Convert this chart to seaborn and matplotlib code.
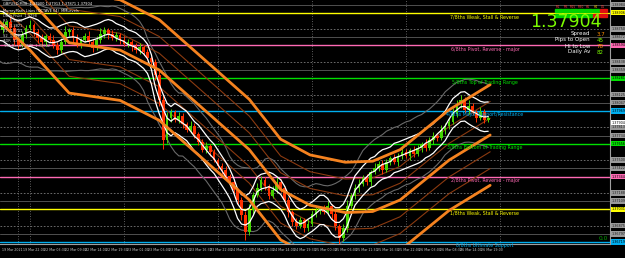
import numpy as np
import pandas as pd
import matplotlib
matplotlib.use("Agg")
import matplotlib.pyplot as plt
import matplotlib.transforms as mtransforms
import seaborn as sns

# ---------------- data (GBPUSD, hourly bars) ----------------
bar_hours = list(range(-8, 118))
first_open = 1.38720
closes = [
    1.38742, 1.38790, 1.38818, 1.38761, 1.38646, 1.38599, 1.38694, 1.38761, 1.38790, 1.38723,
    1.38665, 1.38627, 1.38685, 1.38646, 1.38599, 1.38551, 1.38627, 1.38723, 1.38742, 1.38665,
    1.38608, 1.38646, 1.38685, 1.38627, 1.38570, 1.38646, 1.38704, 1.38742, 1.38704, 1.38665,
    1.38694, 1.38646, 1.38608, 1.38627, 1.38589, 1.38551, 1.38580, 1.38532, 1.38475, 1.38436,
    1.38313, 1.38074, 1.37692, 1.37902, 1.37960, 1.37883, 1.37921, 1.37845, 1.37788, 1.37826,
    1.37750, 1.37673, 1.37597, 1.37635, 1.37578, 1.37501, 1.37444, 1.37406, 1.37349, 1.37292,
    1.37215, 1.37120, 1.36977, 1.36815, 1.37024, 1.37168, 1.37235, 1.37311, 1.37254, 1.37158,
    1.37215, 1.37292, 1.37235, 1.37120, 1.37006, 1.36910, 1.36872, 1.36929, 1.36853, 1.36891,
    1.36987, 1.37024, 1.37044, 1.37006, 1.37063, 1.36987, 1.36872, 1.36757, 1.36853, 1.37063,
    1.37158, 1.37235, 1.37273, 1.37330, 1.37292, 1.37387, 1.37425, 1.37463, 1.37406, 1.37482,
    1.37521, 1.37482, 1.37540, 1.37578, 1.37540, 1.37597, 1.37559, 1.37616, 1.37654, 1.37616,
    1.37692, 1.37731, 1.37711, 1.37788, 1.37826, 1.37864, 1.37940, 1.38036, 1.38074, 1.37978,
    1.38017, 1.37960, 1.37902, 1.37960, 1.37883, 1.37904,
]
wick_up_pips = [
    3, 4, 2, 5, 3, 2, 4, 3, 5, 2,
    3, 4, 2, 3, 5, 3, 4, 6, 2, 3,
    4, 2, 3, 5, 3, 4, 6, 3, 2, 4,
    3, 2, 4, 3, 2, 3, 4, 2, 3, 2,
    3, 4, 5, 6, 3, 2, 4, 3, 2, 5,
    3, 2, 3, 4, 2, 3, 2, 3, 4, 2,
    3, 2, 3, 4, 6, 3, 5, 4, 3, 2,
    4, 5, 3, 2, 3, 2, 4, 3, 2, 5,
    3, 4, 2, 3, 5, 2, 3, 2, 4, 6,
    3, 4, 5, 3, 4, 2, 5, 3, 4, 3,
    2, 4, 3, 5, 3, 2, 4, 3, 2, 5,
    3, 4, 2, 5, 3, 4, 6, 4, 5, 3,
    6, 3, 2, 5, 3, 2,
]
wick_dn_pips = [
    2, 3, 4, 3, 5, 4, 2, 3, 2, 4,
    5, 3, 4, 2, 3, 4, 3, 2, 4, 5,
    3, 4, 2, 3, 4, 2, 3, 4, 5, 2,
    3, 4, 2, 3, 5, 3, 4, 3, 2, 4,
    5, 6, 9, 3, 4, 2, 3, 4, 2, 3,
    4, 3, 2, 3, 4, 2, 3, 4, 3, 2,
    3, 4, 5, 8, 3, 4, 2, 3, 4, 3,
    2, 3, 4, 3, 5, 4, 3, 2, 4, 3,
    2, 3, 4, 2, 3, 5, 4, 6, 3, 4,
    2, 3, 4, 2, 3, 4, 2, 3, 4, 2,
    3, 2, 4, 3, 2, 4, 3, 2, 4, 3,
    2, 4, 3, 2, 4, 3, 2, 3, 4, 3,
    4, 3, 4, 2, 3, 2,
]

# slow orange channel (knots)
band_hours = [-8, 0, 10, 23, 33, 43, 56, 64, 71.5, 80.5, 87.5, 94.5, 107, 117.5]
orange_mid = [1.3931, 1.3903, 1.3862, 1.3855, 1.3836, 1.3803, 1.3760, 1.3722, 1.3707,
              1.3700, 1.3701, 1.3712, 1.3750, 1.3774]
orange_upper = [1.3979, 1.3951, 1.3910, 1.3903, 1.3884, 1.3851, 1.3808, 1.3770, 1.3755,
                1.3748, 1.3749, 1.3760, 1.3798, 1.3822]
orange_lower = [1.3883, 1.3855, 1.3814, 1.3807, 1.3788, 1.3755, 1.3712, 1.3674, 1.3659,
                1.3652, 1.3653, 1.3664, 1.3702, 1.3726]

# Murrey Math levels
mm_levels = [1.36719, 1.37031, 1.37344, 1.37656, 1.37969, 1.38281, 1.38594, 1.38906]
mm_labels = ["0/8ths Ultimate Support", "1/8ths Weak, Stall & Reverse",
             "2/8ths Pivot, Reverse - major", "3/8ths Bottom of Trading Range",
             "4/8ths Major Support/Resistance", "5/8ths Top of Trading Range",
             "6/8ths Pivot, Reverse - major", "7/8ths Weak, Stall & Reverse"]
mm_colors = ["#00aeef", "#ffff00", "#ff69b4", "#00e000", "#00aeef", "#00e000", "#ff69b4", "#ffff00"]
sub_quarter = [1.36797, 1.37109, 1.37422, 1.37734, 1.38047, 1.38359, 1.38672, 1.38984]
sub_half = [1.36875, 1.37188, 1.37500, 1.37813, 1.38125, 1.38438, 1.38750]

current_price = 1.37904
day_separators = [-3, 0, 24, 48, 72, 96, 120]
tick_hours = [-7.15, -1.83, 3.49, 8.81, 14.13, 19.45, 24.77, 30.09, 35.41, 40.73, 46.05, 51.37,
              56.69, 62.01, 67.33, 72.65, 77.97, 83.29, 88.61, 93.93, 99.25, 104.57, 109.89, 115.21]
tick_labels = ["19 Mar 2021", "19 Mar 22:00", "22 Mar 03:30", "22 Mar 09:00", "22 Mar 14:00",
               "22 Mar 19:30", "23 Mar 01:00", "23 Mar 06:00", "23 Mar 11:30", "23 Mar 16:30",
               "23 Mar 22:00", "24 Mar 03:30", "24 Mar 08:30", "24 Mar 14:00", "24 Mar 19:30",
               "25 Mar 00:30", "25 Mar 06:00", "25 Mar 11:30", "25 Mar 16:30", "25 Mar 22:00",
               "26 Mar 03:00", "26 Mar 08:30", "26 Mar 14:00", "26 Mar 19:00"]

tf_names = ["M1", "M5", "M15", "M30", "H1", "H4", "D1"]
tf_colors = ["#ff4040", "#ff4040", "#ff4040", "#ff4040", "#ff4040", "#ffd000", "#ff4040"]
row1_state = [1, 1, 1, 1, 1, 1, 0]
row2_state = [1, 1, 1, 1, 1, 0, 0]
info_names = ["Spread", "Pips to Open", "Hi to Low", "Daily Av"]
info_values = ["3.7", "45", "78", "82"]
info_colors = ["#ff8c00", "#7cfc00", "#ff8c00", "#7cfc00"]

# ---------------- figure ----------------
sns.set_theme(style="dark")
plt.rcParams["font.family"] = ["DejaVu Sans"]
W, H = 625, 258
fig = plt.figure(figsize=(W / 100, H / 100), dpi=100, facecolor="black")
ax = fig.add_axes([0, 14 / H, 610 / W, 244 / H])
ax.set_facecolor("black")
ax.set_xlim(-7.66, 148.1)
ax.set_ylim(1.36700, 1.39028)

df = pd.DataFrame({"h": bar_hours, "close": closes})
df["open"] = [first_open] + closes[:-1]
df["high"] = np.maximum(df["open"], df["close"]) + np.array(wick_up_pips) * 0.0001
df["low"] = np.minimum(df["open"], df["close"]) - np.array(wick_dn_pips) * 0.0001

# grid / separators
for x in day_separators:
    ax.axvline(x, color="#7a7a7a", lw=0.6, ls=(0, (1, 2)), zorder=1)
for y in sub_quarter:
    ax.axhline(y, color="#505050", lw=0.7, zorder=1)
for y in sub_half:
    ax.axhline(y, color="#7a7a7a", lw=0.6, ls=(0, (2, 2)), zorder=1)
for y, c in zip(mm_levels, mm_colors):
    ax.axhline(y, color=c, lw=1.0, zorder=1.5)

# indicator lines
s = df["close"]
wmid = s.rolling(5, center=True, min_periods=1).mean()
gmid = s.rolling(9, center=True, min_periods=1).mean()
ind = pd.DataFrame({"h": df["h"], "wmid": wmid, "wup": wmid + 0.0014, "wdn": wmid - 0.0014,
                    "gup": gmid + 0.0030, "gdn": gmid - 0.0030})
for col in ["gup", "gdn"]:
    sns.lineplot(data=ind, x="h", y=col, color="#6a6a6a", lw=0.8, ax=ax, zorder=2)

ob = pd.DataFrame({"h": band_hours, "mid": orange_mid, "up": orange_upper, "dn": orange_lower})
ob["b1u"] = (ob["mid"] * 2 + ob["up"]) / 3
ob["b1d"] = (ob["mid"] * 2 + ob["dn"]) / 3
ob["b2u"] = (ob["mid"] + ob["up"] * 2) / 3
ob["b2d"] = (ob["mid"] + ob["dn"] * 2) / 3
for col in ["b1u", "b1d", "b2u", "b2d"]:
    sns.lineplot(data=ob, x="h", y=col, color="#8b3a10", lw=0.8, ax=ax, zorder=2)

# candles
bull = df["close"] >= df["open"]
for sub, col in [(df[bull], "#44d400"), (df[~bull], "#ff3000")]:
    ax.vlines(sub["h"], sub["low"], sub["high"], color=col, lw=0.7, zorder=3)
    ax.bar(sub["h"], (sub["close"] - sub["open"]).abs().clip(lower=0.00004),
           bottom=np.minimum(sub["open"], sub["close"]), width=0.7, color=col, lw=0, zorder=3)

for col in ["wmid", "wup", "wdn"]:
    sns.lineplot(data=ind, x="h", y=col, color="white", lw=0.9, ax=ax, zorder=4)
for col in ["mid", "up", "dn"]:
    sns.lineplot(data=ob, x="h", y=col, color="#f5821f", lw=2.0, ax=ax, zorder=4)

# Murrey labels
bt = mtransforms.blended_transform_factory(ax.transAxes, ax.transData)
for y, t, c in zip(mm_levels, mm_labels, mm_colors):
    ax.text(485 / 610, y - 0.00012, t, color=c, fontsize=3.4, ha="center", va="top",
            transform=bt, zorder=6)

# axes cosmetics
ax.set_xlabel("")
ax.set_ylabel("")
ax.grid(False)
for sp in ["top", "left"]:
    ax.spines[sp].set_visible(False)
for sp in ["right", "bottom"]:
    ax.spines[sp].set_color("#a0a0a0")
    ax.spines[sp].set_linewidth(0.8)
ax.set_yticks([])
ax.set_xticks(tick_hours)
ax.set_xticklabels(tick_labels, fontsize=2.3, color="#c8c8c8", ha="left")
ax.tick_params(axis="x", length=2, color="#a0a0a0", pad=1.2, direction="out")

# right price axis boxes
for y in sub_quarter + sub_half:
    if 1.3670 < y < 1.3903:
        ax.text(1.003, y, f"{y:.5f}", fontsize=2.4, color="#202020", va="center", ha="left",
                transform=bt, clip_on=False,
                bbox=dict(boxstyle="square,pad=0.2", fc="#9a9a9a", ec="none"))
for y, c in zip(mm_levels, mm_colors):
    ax.text(1.003, y, f"{y:.5f}", fontsize=2.4, color="black", va="center", ha="left",
            transform=bt, clip_on=False,
            bbox=dict(boxstyle="square,pad=0.2", fc=c, ec="none"))
ax.text(1.003, current_price - 0.00045, f"{current_price:.5f}", fontsize=2.4, color="black",
        va="center", ha="left", transform=bt, clip_on=False,
        bbox=dict(boxstyle="square,pad=0.2", fc="white", ec="none"))

# top-left info text
fig.text(3 / W, 1 - 4 / H, "GBPUSD,M30  1.37900 1.37913 1.37871 1.37904", color="white",
         fontsize=2.6, va="center")
fig.text(3 / W, 1 - 11 / H, "MurreyMath Lines (OCTAVE 64)  MMLevels", color="white",
         fontsize=2.6, va="center")
left_lines = ["Daily Pivot  1.3798", "R1  1.3842", "R2  1.3871", "S1  1.3741",
              "S2  1.3712", "ADR  82", "TMA Bands  M30  1.38042"]
for k, t in enumerate(left_lines):
    fig.text(3 / W, 1 - (16 + 5 * k) / H, t, color="#d0d0d0", fontsize=2.6, va="center")

# top-right dashboard
for k, (n, c) in enumerate(zip(tf_names, tf_colors)):
    x0 = 555 + 7.5 * k
    fig.text(x0 / W + 3 / W, 1 - 6.5 / H, n, color=c, fontsize=2.2, ha="center", va="center")
    for yy, st in [(10.5, row1_state[k]), (15.5, row2_state[k])]:
        fig.patches.append(plt.Rectangle((x0 / W, 1 - (yy + 1.2) / H), 6.5 / W, 2.4 / H,
                                         transform=fig.transFigure,
                                         color="#00d000" if st else "#e01010"))
fig.text(602 / W, 1 - 22 / H, "1.37904", color="#7cfc00", fontsize=12.5, ha="right",
         va="center")
for k, (n, v, c) in enumerate(zip(info_names, info_values, info_colors)):
    yy = 1 - (34 + 6 * k) / H
    fig.text(590 / W, yy, n, color="white", fontsize=4.0, ha="right", va="center")
    fig.text(597 / W, yy, v, color=c, fontsize=4.0, ha="left", va="center")
fig.text(603 / W, 1 - 238 / H, "0.0", color="#00a000", fontsize=4.2, ha="center", va="center")

fig.savefig("out.png", dpi=100, facecolor="black")
